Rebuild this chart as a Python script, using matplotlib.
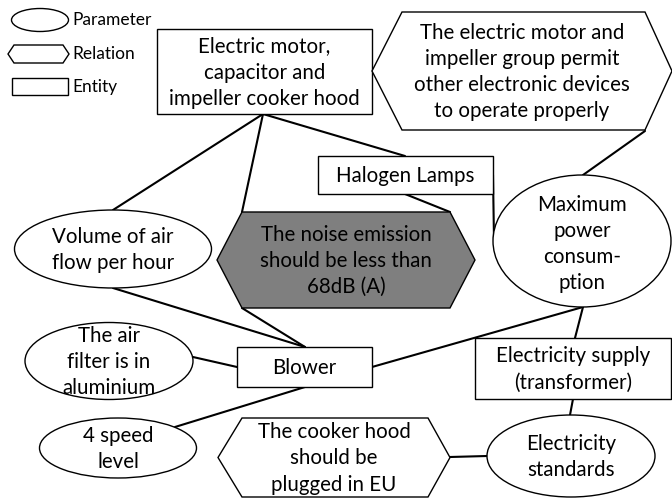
import matplotlib
matplotlib.use("Agg")
import matplotlib.pyplot as plt
from matplotlib.patches import Ellipse, Rectangle, Polygon

plt.rcParams['font.family'] = ['Lato', 'DejaVu Sans']

# node texts
entities = {
    'hood': "Electric motor,\ncapacitor and\nimpeller cooker hood",
    'halogen': "Halogen Lamps",
    'blower': "Blower",
    'supply': "Electricity supply\n(transformer)",
}
parameters = {
    'volume': "Volume of air\nflow per hour",
    'filter': "The air\nfilter is in\naluminium",
    'speed': "4 speed\nlevel",
    'power': "Maximum\npower\nconsum-\nption",
    'standards': "Electricity\nstandards",
}
relations = {
    'permit': "The electric motor and\nimpeller group permit\nother electronic devices\nto operate properly",
    'noise': "The noise emission\nshould be less than\n68dB (A)",
    'plug': "The cooker hood\nshould be\nplugged in EU",
}
legend_labels = ["Parameter", "Relation", "Entity"]

# layout in pixels (x, y from top-left)
rects = {
    'hood': (157, 29, 372, 114),
    'halogen': (318, 156, 493, 194),
    'blower': (237, 347, 372, 387),
    'supply': (475, 338, 671, 399),
}
ellipses = {
    'volume': (113, 249, 197, 78),
    'filter': (109, 361, 168, 77),
    'speed': (118, 448, 157, 60),
    'power': (582, 241, 178, 132),
    'standards': (571, 456, 168, 82),
}
hexes = {
    'permit': (372, 402, 645, 672, 12, 130),
    'noise': (217, 242, 450, 475, 212, 308),
    'plug': (218, 242, 428, 450, 418, 497),
}
links = [
    ((263, 114), (113, 210)),
    ((263, 114), (242, 212)),
    ((263, 114), (405, 156)),
    ((405, 194), (450, 212)),
    ((242, 308), (305, 347)),
    ((113, 288), (305, 347)),
    ((193, 357), (237, 367)),
    ((305, 387), (175, 427)),
    ((372, 367), (583, 307)),
    ((493, 175), (494, 240)),
    ((645, 131), (583, 175)),
    ((583, 307), (575, 338)),
    ((573, 399), (570, 415)),
    ((450, 457), (487, 456)),
]

fig = plt.figure(figsize=(6.72, 4.99), dpi=100)
ax = fig.add_axes([0, 0, 1, 1])
ax.set_xlim(0, 672)
ax.set_ylim(499, 0)
ax.axis('off')

for (x0, y0), (x1, y1) in links:
    ax.plot([x0, x1], [y0, y1], color='black', lw=1.5, zorder=1,
            solid_capstyle='round')

fs = 14.8
ls = 1.38
for key, (x0, y0, x1, y1) in rects.items():
    ax.add_patch(Rectangle((x0, y0), x1 - x0, y1 - y0, fc='white',
                           ec='black', lw=1, zorder=2))
    ax.text((x0 + x1) / 2, (y0 + y1) / 2 + 1, entities[key], ha='center',
            va='center', fontsize=fs, linespacing=ls, zorder=3)

for key, (cx, cy, w, h) in ellipses.items():
    ax.add_patch(Ellipse((cx, cy), w, h, fc='white', ec='black', lw=1,
                         zorder=2))
    ty = cy + 3 if key == 'power' else cy + 1
    ax.text(cx, ty, parameters[key], ha='center', va='center',
            fontsize=fs, linespacing=ls, zorder=3)

for key, (xl, xa, xb, xr, yt, yb) in hexes.items():
    ym = (yt + yb) / 2
    fc = '#7f7f7f' if key == 'noise' else 'white'
    ax.add_patch(Polygon([(xl, ym), (xa, yt), (xb, yt), (xr, ym),
                          (xb, yb), (xa, yb)], closed=True, fc=fc,
                         ec='black', lw=1, zorder=2))
    ax.text((xl + xr) / 2, ym + 1, relations[key], ha='center',
            va='center', fontsize=fs, linespacing=ls, zorder=3)

# legend
ax.add_patch(Ellipse((40, 20), 57, 23, fc='white', ec='black', lw=1))
ax.add_patch(Polygon([(8, 54), (14, 45), (63, 45), (69, 54), (63, 63),
                      (14, 63)], closed=True, fc='white', ec='black', lw=1))
ax.add_patch(Rectangle((12, 78), 56, 17, fc='white', ec='black', lw=1))
for y, lab in zip([20, 54, 87], legend_labels):
    ax.text(72, y, lab, ha='left', va='center', fontsize=12.5)

fig.savefig("out.png", dpi=100)
